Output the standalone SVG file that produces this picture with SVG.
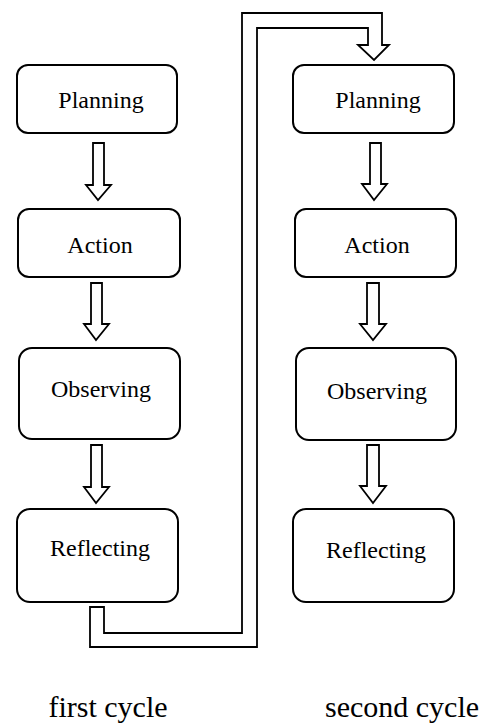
<svg xmlns="http://www.w3.org/2000/svg" width="493" height="724" viewBox="0 0 493 724">
<style>
.box{fill:#fff;stroke:#000;stroke-width:2}
.arr{fill:#fff;stroke:#000;stroke-width:1.8;stroke-linejoin:miter}
.lbl{font-family:"Liberation Serif",serif;font-size:24px;fill:#000;text-anchor:middle}
.cap{font-family:"Liberation Serif",serif;font-size:30px;fill:#000;text-anchor:middle}
</style>
<rect width="493" height="724" fill="#fff"/>
<g id="connectors">
<polygon class="arr" points="93,143 104,143 104,185 111,185 98,200 86,185 93,185"/>
<polygon class="arr" points="91,283 102,283 102,324 109,324 96,340 84,324 91,324"/>
<polygon class="arr" points="91,445 102,445 102,487 109,487 96,503 84,487 91,487"/>
<polygon class="arr" points="370,143 381,143 381,184 387,184 374,200 362,184 370,184"/>
<polygon class="arr" points="367,283 379,283 379,324 386,324 373,340 360,324 367,324"/>
<polygon class="arr" points="367,445 379,445 379,486 386,486 373,503 360,486 367,486"/>
<polygon id="loop" class="arr" points="90,607 104,607 104,633 242,633 242,13 382,13 382,45 389,45 374,60 358,45 368,45 368,28 257,28 257,647 90,647"/>
</g>
<g id="planning1"><rect class="box" x="17" y="65" width="160" height="68" rx="11"/><text class="lbl" x="101" y="108">Planning</text></g>
<g id="action1"><rect class="box" x="18" y="209" width="162" height="68" rx="11"/><text class="lbl" x="100" y="253">Action</text></g>
<g id="observing1"><rect class="box" x="19" y="348" width="161" height="91" rx="13"/><text class="lbl" x="101" y="397">Observing</text></g>
<g id="reflecting1"><rect class="box" x="17" y="509" width="161" height="93" rx="13"/><text class="lbl" x="100" y="556">Reflecting</text></g>
<g id="planning2"><rect class="box" x="293" y="65" width="161" height="68" rx="11"/><text class="lbl" x="378" y="108">Planning</text></g>
<g id="action2"><rect class="box" x="295" y="209" width="161" height="68" rx="11"/><text class="lbl" x="377" y="253">Action</text></g>
<g id="observing2"><rect class="box" x="296" y="348" width="160" height="92" rx="13"/><text class="lbl" x="377" y="399">Observing</text></g>
<g id="reflecting2"><rect class="box" x="293" y="509" width="161" height="93" rx="13"/><text class="lbl" x="376" y="558">Reflecting</text></g>
<g id="labels">
<text class="cap" x="108" y="717">first cycle</text>
<text class="cap" x="402" y="717">second cycle</text>
</g>
</svg>
